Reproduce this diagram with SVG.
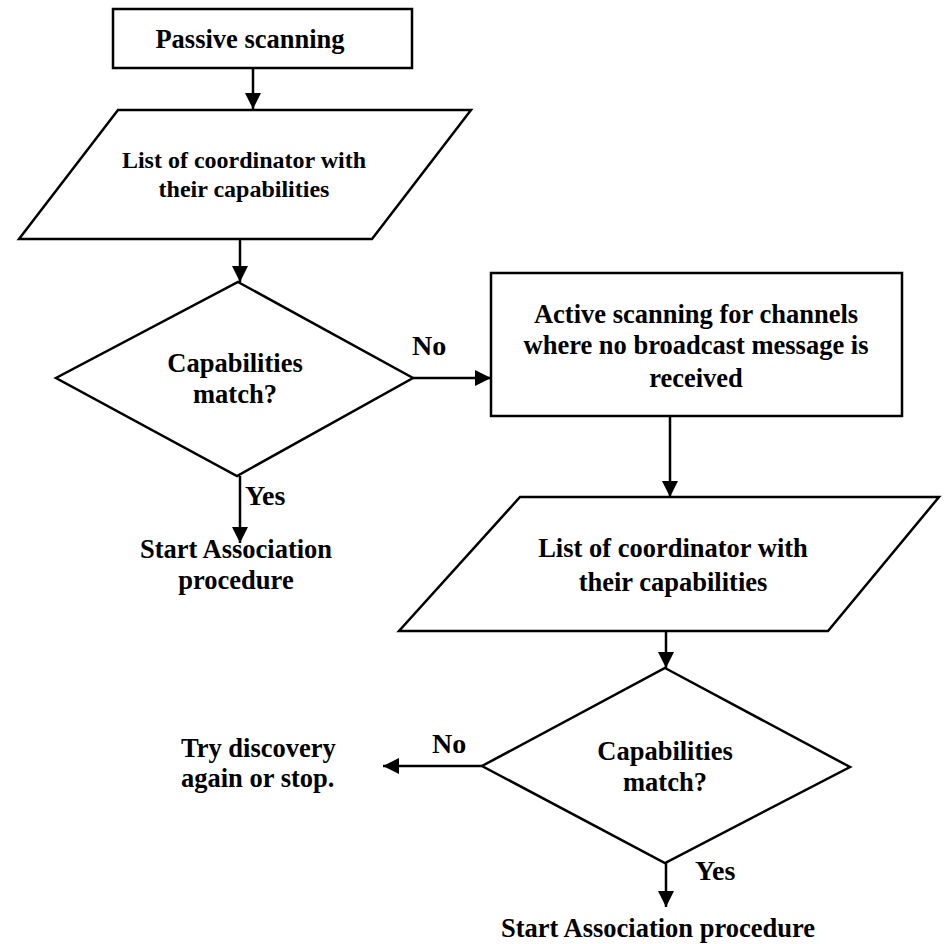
<svg xmlns="http://www.w3.org/2000/svg" width="950" height="944" viewBox="0 0 950 944">
  <defs>
    <marker id="arrow" viewBox="0 0 16 16" refX="16" refY="8" markerWidth="16" markerHeight="16" markerUnits="userSpaceOnUse" orient="auto">
      <path d="M0,0 L16,8 L0,16 Z" fill="#000"/>
    </marker>
    <style>
      .shape { fill: #fff; stroke: #000; stroke-width: 2.5; }
      .link { fill: none; stroke: #000; stroke-width: 2.5; marker-end: url(#arrow); }
      text { font-family: "Liberation Serif", "Times New Roman", serif; font-weight: bold; fill: #000; }
      .c { text-anchor: middle; }
      .s { font-size: 26.5px; }
      .m { font-size: 24px; }
      .l { font-size: 28px; }
    </style>
  </defs>
  <rect width="950" height="944" fill="#fff"/>

  <!-- connectors -->
  <g id="connectors">
    <line class="link" x1="253" y1="68" x2="253" y2="109"/>
    <line class="link" x1="240" y1="239" x2="240" y2="282"/>
    <line class="link" x1="413" y1="378" x2="491" y2="378"/>
    <line class="link" x1="240" y1="476" x2="240" y2="543"/>
    <line class="link" x1="670" y1="416" x2="670" y2="497"/>
    <line class="link" x1="666" y1="631" x2="666" y2="668"/>
    <line class="link" x1="482" y1="766" x2="383" y2="766"/>
    <line class="link" x1="666" y1="863" x2="666" y2="907"/>
  </g>

  <!-- branch labels -->
  <g id="labels">
    <text class="l" x="412" y="355">No</text>
    <text class="l" x="245" y="505">Yes</text>
    <text class="l" x="432" y="753">No</text>
    <text class="l" x="695" y="880">Yes</text>
  </g>

  <g id="passive-scanning">
    <rect class="shape" x="113" y="9" width="299" height="59"/>
    <text class="s c" x="250" y="48">Passive scanning</text>
  </g>

  <g id="coordinator-list-1">
    <polygon class="shape" points="118,110 471,110 372,239 19,239"/>
    <text class="m c" x="244" y="168">List of coordinator with</text>
    <text class="m c" x="244" y="197">their capabilities</text>
  </g>

  <g id="capabilities-match-1">
    <polygon class="shape" points="238,282 413,378 237,476 56,378"/>
    <text class="s c" x="235" y="372">Capabilities</text>
    <text class="s c" x="235" y="403">match?</text>
  </g>

  <g id="start-association-1">
    <text class="s c" x="236" y="558">Start Association</text>
    <text class="s c" x="236" y="589">procedure</text>
  </g>

  <g id="active-scanning">
    <rect class="shape" x="491" y="273" width="411" height="143"/>
    <text class="s c" x="696" y="323">Active scanning for channels</text>
    <text class="s c" x="696" y="354">where no broadcast message is</text>
    <text class="s c" x="696" y="387">received</text>
  </g>

  <g id="coordinator-list-2">
    <polygon class="shape" points="520,497 939,497 828,631 399,631"/>
    <text class="s c" x="673" y="557">List of coordinator with</text>
    <text class="s c" x="673" y="591">their capabilities</text>
  </g>

  <g id="capabilities-match-2">
    <polygon class="shape" points="665,668 850,767 665,863 482,766"/>
    <text class="s c" x="665" y="760">Capabilities</text>
    <text class="s c" x="665" y="791">match?</text>
  </g>

  <g id="try-again">
    <text class="s" x="181" y="757" font-size="25">Try discovery</text>
    <text class="s" x="181" y="787" font-size="25">again or stop.</text>
  </g>

  <g id="start-association-2">
    <text class="s c" x="658" y="937">Start Association procedure</text>
  </g>
</svg>
